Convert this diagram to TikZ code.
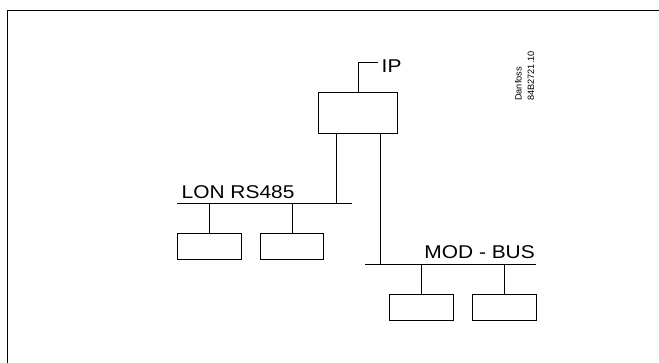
\documentclass[tikz,border=0pt]{standalone}
\usepackage{fontspec}
\setmainfont{Liberation Sans}
\newfontfamily\widef[FakeStretch=1.13]{Liberation Sans}
\begin{document}
\begin{tikzpicture}[x=1pt,y=-1pt,
  unit/.style={draw,line width=0.8pt,inner sep=0pt,anchor=north west},
  wire/.style={line width=0.8pt},
  lbl/.style={inner sep=0pt,font=\widef\fontsize{18.5}{20}\selectfont},
  tiny/.style={inner sep=0pt,rotate=90,font=\fontsize{9.2}{10}\selectfont}]
\useasboundingbox (0,0) rectangle (659,363);
\draw[line width=1.3pt] (7.5,363) -- (7.5,10.5) -- (659,10.5);
% IP box
\node[unit,minimum width=79pt,minimum height=41pt] (ipbox) at (318,92) {};
\coordinate (ipc) at (358.3,62.3);
\coordinate (ipe) at (378,62.3);
\draw[wire] (ipbox.north -| ipc) -- (ipc) -- (ipe);
\node[lbl,anchor=base west] (iplbl) at (381.5,72.3) {IP};
% LON bus
\coordinate (lonl) at (177.3,203.3);
\coordinate (lonr) at (351.7,203.3);
\draw[wire] (lonl) -- (lonr);
\node[lbl,anchor=base west] (lonlbl) at (181.5,198.3) {LON RS485};
\coordinate (lonj) at (336,203.3);
\draw[wire] (ipbox.south -| lonj) -- (lonj);
\node[unit,minimum width=63.4pt,minimum height=26.6pt] (l1) at (177.3,232.7) {};
\node[unit,minimum width=63.3pt,minimum height=26.6pt] (l2) at (260,232.7) {};
\draw[wire] (l1.north) -- (l1.north |- lonl);
\draw[wire] (l2.north) -- (l2.north |- lonl);
% MOD-BUS
\coordinate (modl) at (365,264);
\coordinate (modr) at (535.7,264);
\draw[wire] (modl) -- (modr);
\coordinate (modj) at (380.5,264);
\draw[wire] (ipbox.south -| modj) -- (modj);
\node[lbl,anchor=base east] (modlbl) at (535,258.3) {MOD - BUS};
\node[unit,minimum width=63.4pt,minimum height=26pt] (m1) at (389.3,294) {};
\node[unit,minimum width=64pt,minimum height=26pt] (m2) at (471.7,294) {};
\draw[wire] (m1.north) -- (m1.north |- modl);
\draw[wire] (m2.north) -- (m2.north |- modl);
% Danfoss
\node[tiny,anchor=base west] (dan) at (521.7,101) {Danfoss};
\node[tiny,anchor=base west] (code) at (534,101) {84B2721.10};
\end{tikzpicture}
\end{document}
